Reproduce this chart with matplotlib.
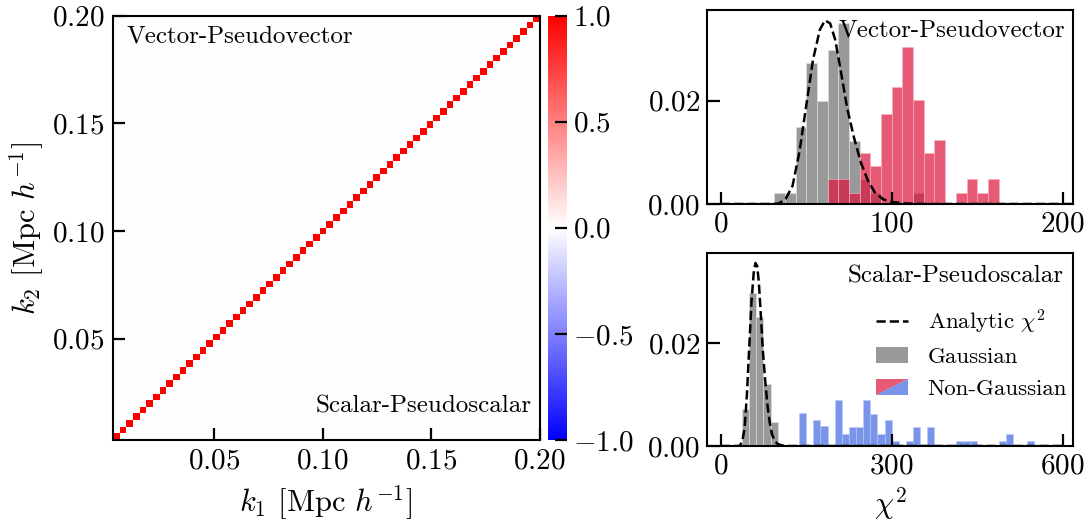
import numpy as np
import matplotlib
matplotlib.use("Agg")
import matplotlib.pyplot as plt
from matplotlib.patches import Polygon
from matplotlib.legend_handler import HandlerBase
from matplotlib.lines import Line2D
from matplotlib.patches import Patch

plt.rcParams.update({
    "font.family": "serif",
    "font.serif": ["cmr10"],
    "mathtext.fontset": "cm",
    "axes.formatter.use_mathtext": True,
    "axes.unicode_minus": True,
})

# ---------------- data ----------------
k_min, k_max = 0.003, 0.20
n_k = 64
corr_diagonal = 1.0
corr_offdiagonal = 0.0
k_ticks = [0.05, 0.10, 0.15, 0.20]
cbar_ticks = [-1.0, -0.5, 0.0, 0.5, 1.0]

vp_range = (0, 200)
vp_nbins = 32
vp_gaussian = [0, 0, 0, 0, 0, 0.0022, 0.0022, 0.0149, 0.0274, 0.0200,
               0.0299, 0.0350, 0.0123, 0.0048, 0.0022, 0, 0, 0, 0.0022, 0,
               0, 0, 0, 0, 0, 0, 0, 0, 0, 0, 0, 0]
vp_nongaussian = [0, 0, 0, 0, 0, 0, 0, 0, 0, 0,
                  0.0048, 0.0048, 0.0022, 0.0098, 0.0073, 0.0175, 0.0226, 0.0304, 0.0201, 0.0098,
                  0.0125, 0, 0.0022, 0.0048, 0.0022, 0.0048, 0, 0, 0, 0, 0, 0]
vp_xticks = [0, 100, 200]

sp_range = (0, 600)
sp_nbins = 48
sp_gaussian = [0, 0, 0, 0.0072, 0.0298, 0.0251, 0.0121, 0.0047, 0, 0,
               0, 0, 0, 0, 0, 0, 0, 0, 0, 0,
               0, 0, 0, 0, 0, 0, 0, 0, 0, 0,
               0, 0, 0, 0, 0, 0, 0, 0, 0, 0,
               0, 0, 0, 0, 0, 0, 0, 0]
sp_nongaussian = [0, 0, 0, 0, 0, 0, 0, 0, 0, 0,
                  0, 0.0064, 0, 0.0051, 0.0038, 0, 0.0090, 0.0023, 0.0036, 0.0036,
                  0.0090, 0.0063, 0.0023, 0.0050, 0.0010, 0, 0.0010, 0.0036, 0, 0.0036,
                  0, 0, 0, 0.0010, 0.0010, 0.0010, 0, 0, 0, 0.0010,
                  0.0023, 0, 0, 0.0010, 0, 0, 0, 0]
sp_xticks = [0, 300, 600]

hist_yticks = [0.0, 0.02]

chi2_curve_x = [0, 30, 34, 38, 42, 46, 50, 54, 58, 61, 64, 67, 70, 74, 78,
                82, 86, 90, 95, 100, 108, 120, 600]
chi2_curve_y = [0, 0, 0.0001, 0.0010, 0.0035, 0.0100, 0.0190, 0.0280, 0.0338, 0.0356,
                0.0350, 0.0318, 0.0262, 0.0185, 0.0128, 0.0080, 0.0046, 0.0023, 0.0009,
                0.0004, 0.0001, 0, 0]

# ---------------- styles ----------------
GREY = "grey"
RED = "crimson"
BLUE = "royalblue"
TICK_FS = 21
LAB_FS = 22
TXT_FS = 18
LEG_FS = 16.5

W, H = 1088, 528
fig = plt.figure(figsize=(W / 100, H / 100), dpi=100)


def frac(x0, y0, x1, y1):
    return [x0 / W, 1 - y1 / H, (x1 - x0) / W, (y1 - y0) / H]


ax_hm = fig.add_axes(frac(112.5, 15.5, 539.5, 440))
ax_cb = fig.add_axes(frac(548, 15.5, 567, 440))
ax_top = fig.add_axes(frac(707, 10, 1073, 204))
ax_bot = fig.add_axes(frac(707, 252.7, 1073, 446))

# ---------------- heatmap ----------------
corr = np.full((n_k, n_k), corr_offdiagonal)
np.fill_diagonal(corr, corr_diagonal)
im = ax_hm.imshow(corr, cmap="bwr", vmin=-1, vmax=1, origin="lower",
                  extent=[k_min, k_max, k_min, k_max], aspect="auto",
                  interpolation="nearest")
ax_hm.set_xticks(k_ticks[:])
ax_hm.set_yticks(k_ticks[:])
ax_hm.set_xlim(k_min, k_max)
ax_hm.set_ylim(k_min, k_max)
ax_hm.set_xlabel(r"$k_1$ [Mpc $h^{-1}$]", fontsize=LAB_FS, labelpad=6)
ax_hm.set_ylabel(r"$k_2$ [Mpc $h^{-1}$]", fontsize=LAB_FS, labelpad=4)
ax_hm.tick_params(direction="in", length=8.5, width=1.6, labelsize=TICK_FS, pad=6)
ax_hm.text(0.032, 0.95, "Vector-Pseudovector", transform=ax_hm.transAxes,
           fontsize=TXT_FS, ha="left", va="center")
ax_hm.text(0.982, 0.078, "Scalar-Pseudoscalar", transform=ax_hm.transAxes,
           fontsize=TXT_FS, ha="right", va="center")

cb = fig.colorbar(im, cax=ax_cb, ticks=cbar_ticks)
cb.outline.set_visible(False)
ax_cb.tick_params(direction="in", length=8.5, width=1.6, labelsize=TICK_FS, pad=4)

# ---------------- histograms ----------------
def draw_hist(ax, rng, nbins, gauss, nongauss, ng_color, ng_edge, xticks):
    edges = np.linspace(rng[0], rng[1], nbins + 1)
    centers = 0.5 * (edges[:-1] + edges[1:])
    ax.hist(centers, bins=edges, weights=gauss, color=GREY, alpha=0.8,
            edgecolor="#dddddd", linewidth=0.6)
    ax.hist(centers, bins=edges, weights=nongauss, color=ng_color, alpha=0.7,
            edgecolor=ng_edge, linewidth=0.6)
    ax.plot(chi2_curve_x, chi2_curve_y, "k--", lw=1.8)
    span = rng[1] - rng[0]
    ax.set_xlim(rng[0] - 0.04 * span, rng[1] + 0.03 * span)
    ax.set_ylim(0, 0.0376)
    ax.set_xticks(xticks)
    ax.set_yticks(hist_yticks)
    ax.tick_params(direction="in", length=9, width=1.6, labelsize=TICK_FS, pad=5)
    for s in ax.spines.values():
        s.set_linewidth(1.5)


draw_hist(ax_top, vp_range, vp_nbins, vp_gaussian, vp_nongaussian, RED, "#f4b6c4", vp_xticks)
draw_hist(ax_bot, sp_range, sp_nbins, sp_gaussian, sp_nongaussian, BLUE, "#b9c8f4", sp_xticks)

ax_top.text(0.978, 0.897, "Vector-Pseudovector", transform=ax_top.transAxes,
            fontsize=TXT_FS, ha="right", va="center")
ax_bot.text(0.974, 0.876, "Scalar-Pseudoscalar", transform=ax_bot.transAxes,
            fontsize=TXT_FS, ha="right", va="center")
ax_bot.set_xlabel(r"$\chi^2$", fontsize=LAB_FS, labelpad=4)

for s in ax_hm.spines.values():
    s.set_linewidth(1.5)


class SplitPatch:
    pass


class SplitHandler(HandlerBase):
    def create_artists(self, legend, orig_handle, xdescent, ydescent, width,
                       height, fontsize, trans):
        x0, y0 = -xdescent, -ydescent
        up = Polygon([[x0, y0], [x0, y0 + height], [x0 + width, y0 + height]],
                     closed=True, facecolor=RED, alpha=0.7, edgecolor="none",
                     transform=trans)
        lo = Polygon([[x0, y0], [x0 + width, y0], [x0 + width, y0 + height]],
                     closed=True, facecolor=BLUE, alpha=0.7, edgecolor="none",
                     transform=trans)
        return [up, lo]


handles = [Line2D([], [], color="k", ls="--", lw=1.8),
           Patch(facecolor=GREY, alpha=0.8, edgecolor="none"),
           SplitPatch()]
labels = [r"Analytic $\chi^2$", "Gaussian", "Non-Gaussian"]
ax_bot.legend(handles, labels, handler_map={SplitPatch: SplitHandler()},
              loc="center right", bbox_to_anchor=(0.984, 0.481),
              frameon=False, fontsize=LEG_FS, borderaxespad=0, borderpad=0,
              handlelength=1.4, handletextpad=0.85, labelspacing=0.5)

fig.savefig("out.png", dpi=100)
